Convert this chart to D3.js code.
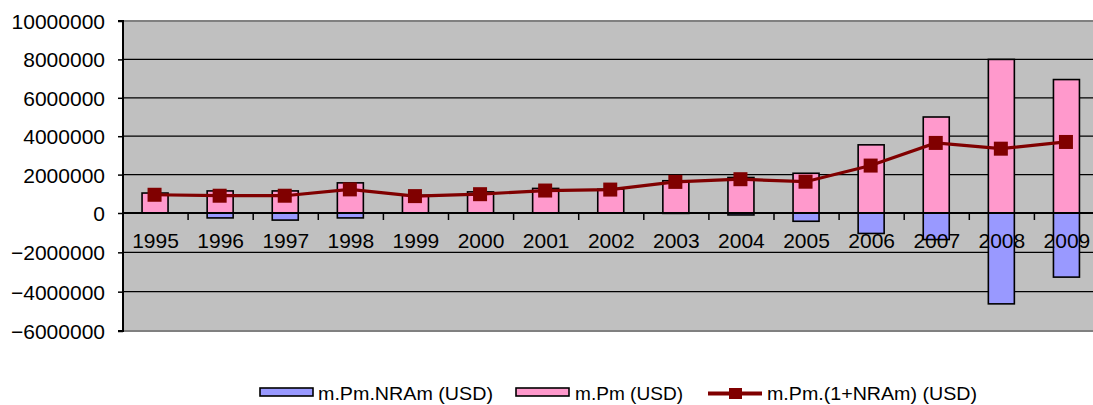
<!DOCTYPE html>
<html>
<head>
<meta charset="utf-8">
<script src="https://cdn.jsdelivr.net/npm/d3@7"></script>
<style>
  html, body { margin: 0; padding: 0; background: #ffffff; }
  svg { display: block; }
  text { font-family: "Liberation Sans", Arimo, Arial, sans-serif; fill: #000; }
</style>
</head>
<body>
<div id="chart"></div>
<script>
// ---- data ----
const years = ["1995","1996","1997","1998","1999","2000","2001","2002","2003","2004","2005","2006","2007","2008","2009"];
const pmNRA = [0, -250000, -360000, -250000, 0, 0, 0, 0, -20000, -100000, -420000, -1040000, -1350000, -4620000, -3260000];
const pm = [1040000, 1150000, 1150000, 1570000, 920000, 1100000, 1280000, 1240000, 1680000, 1850000, 2070000, 3550000, 5000000, 8000000, 6950000];
const pmOneNRA = [950000, 900000, 900000, 1230000, 880000, 980000, 1170000, 1220000, 1620000, 1760000, 1630000, 2470000, 3650000, 3350000, 3700000];
const yTicks = [-6000000, -4000000, -2000000, 0, 2000000, 4000000, 6000000, 8000000, 10000000];
const seriesNames = ["m.Pm.NRAm (USD)", "m.Pm (USD)", "m.Pm.(1+NRAm) (USD)"];

// ---- layout ----
const W = 1093, H = 405;
const plotL = 123, plotT = 21, plotB = 331;
const band = 65.1;
const plotR = plotL + band * years.length;
const FONT = "'Liberation Sans', Arimo, Arial, sans-serif";

const svg = d3.select("#chart").append("svg").attr("width", W).attr("height", H);

const x = d3.scaleBand().domain(years).range([plotL, plotR]).padding(0);
const y = d3.scaleLinear().domain([-6000000, 0, 10000000]).range([plotB, 213, plotT]);

// plot background
svg.append("rect").attr("x", plotL).attr("y", plotT)
  .attr("width", plotR - plotL).attr("height", plotB - plotT)
  .attr("fill", "#c0c0c0");

// gridlines
svg.append("g").selectAll("line").data(yTicks.filter(d => d !== -6000000 && d !== 10000000 && d !== 0))
  .join("line")
  .attr("x1", plotL).attr("x2", plotR)
  .attr("y1", d => y(d)).attr("y2", d => y(d))
  .attr("stroke", "#000").attr("stroke-width", 1.2);

// plot border (top/bottom gray)
svg.append("line").attr("x1", plotL).attr("x2", plotR).attr("y1", y(10000000)).attr("y2", y(10000000))
  .attr("stroke", "#808080").attr("stroke-width", 2);
svg.append("line").attr("x1", plotL).attr("x2", plotR).attr("y1", y(-6000000)).attr("y2", y(-6000000))
  .attr("stroke", "#808080").attr("stroke-width", 2);

// y axis
const yAxis = d3.axisLeft(y).tickValues(yTicks).tickSize(5).tickPadding(13).tickFormat(d3.format("d"));
const gy = svg.append("g").attr("transform", `translate(${plotL},0)`).call(yAxis);
gy.select(".domain").attr("stroke", "#000").attr("stroke-width", 2)
  .attr("d", `M-5,${plotT}H0V${plotB}H-5`);
gy.selectAll(".tick line").attr("stroke", "#000").attr("stroke-width", 1.5);
gy.selectAll(".tick text").attr("font-size", 21).attr("font-family", FONT)
  .attr("fill", "#000").attr("dy", "0.36em");

// bars
const bw = 26;
const barX = d => x(d) + band / 2 - bw / 2 - 0.5;
svg.append("g").selectAll("rect").data(years)
  .join("rect")
  .attr("x", d => barX(d))
  .attr("y", (d, i) => y(Math.max(0, pm[i])))
  .attr("width", bw)
  .attr("height", (d, i) => Math.abs(y(pm[i]) - y(0)))
  .attr("fill", "#ff99cc").attr("stroke", "#000").attr("stroke-width", 1.6);

svg.append("g").selectAll("rect").data(years)
  .join("rect")
  .filter((d, i) => pmNRA[i] !== 0)
  .attr("x", d => barX(d))
  .attr("y", (d) => y(0))
  .attr("width", bw)
  .attr("height", (d) => Math.abs(y(pmNRA[years.indexOf(d)]) - y(0)))
  .attr("fill", "#9999ff").attr("stroke", "#000").attr("stroke-width", 1.6);

// zero axis line with category tick marks
svg.append("line").attr("x1", plotL).attr("x2", plotR).attr("y1", y(0)).attr("y2", y(0))
  .attr("stroke", "#000").attr("stroke-width", 2);
svg.append("g").selectAll("line").data(years.slice(1))
  .join("line")
  .attr("x1", d => x(d)).attr("x2", d => x(d))
  .attr("y1", y(0)).attr("y2", y(0) + 7)
  .attr("stroke", "#000").attr("stroke-width", 1.5);

// category labels
svg.append("g").selectAll("text").data(years)
  .join("text")
  .attr("x", d => x(d) + band / 2)
  .attr("y", 248)
  .attr("text-anchor", "middle")
  .attr("font-family", FONT)
  .attr("font-size", 21)
  .text(d => d);

// line series
const line = d3.line().x((d, i) => x(years[i]) + band / 2 - 1).y(d => y(d));
svg.append("path").datum(pmOneNRA)
  .attr("d", line)
  .attr("fill", "none").attr("stroke", "#800000").attr("stroke-width", 3.2);
const ms = 14;
svg.append("g").selectAll("rect").data(pmOneNRA)
  .join("rect")
  .attr("x", (d, i) => x(years[i]) + band / 2 - 1 - ms / 2)
  .attr("y", d => y(d) - ms / 2)
  .attr("width", ms).attr("height", ms)
  .attr("fill", "#800000");

// legend
const lg = svg.append("g");
const legendY = 392;
const items = [
  { type: "rect", fill: "#9999ff", sx: 260, tx: 318, tw: 175 },
  { type: "rect", fill: "#ff99cc", sx: 516, tx: 575, tw: 108 },
  { type: "line", fill: "#800000", sx: 708, tx: 767, tw: 210 }
];
items.forEach((it, i) => {
  if (it.type === "rect") {
    lg.append("rect").attr("x", it.sx).attr("y", legendY - 4).attr("width", 53).attr("height", 8)
      .attr("fill", it.fill).attr("stroke", "#000").attr("stroke-width", 1.6);
  } else {
    lg.append("line").attr("x1", it.sx).attr("x2", it.sx + 54).attr("y1", legendY + 1.5).attr("y2", legendY + 1.5)
      .attr("stroke", it.fill).attr("stroke-width", 4);
    lg.append("rect").attr("x", it.sx + 21).attr("y", legendY + 1.5 - 5.5).attr("width", 13).attr("height", 11)
      .attr("fill", it.fill);
  }
  lg.append("text").attr("x", it.tx).attr("y", 400)
    .attr("font-family", FONT)
    .attr("font-size", 17.5)
    .attr("textLength", it.tw).attr("lengthAdjust", "spacingAndGlyphs")
    .text(seriesNames[i]);
});
</script>
</body>
</html>
